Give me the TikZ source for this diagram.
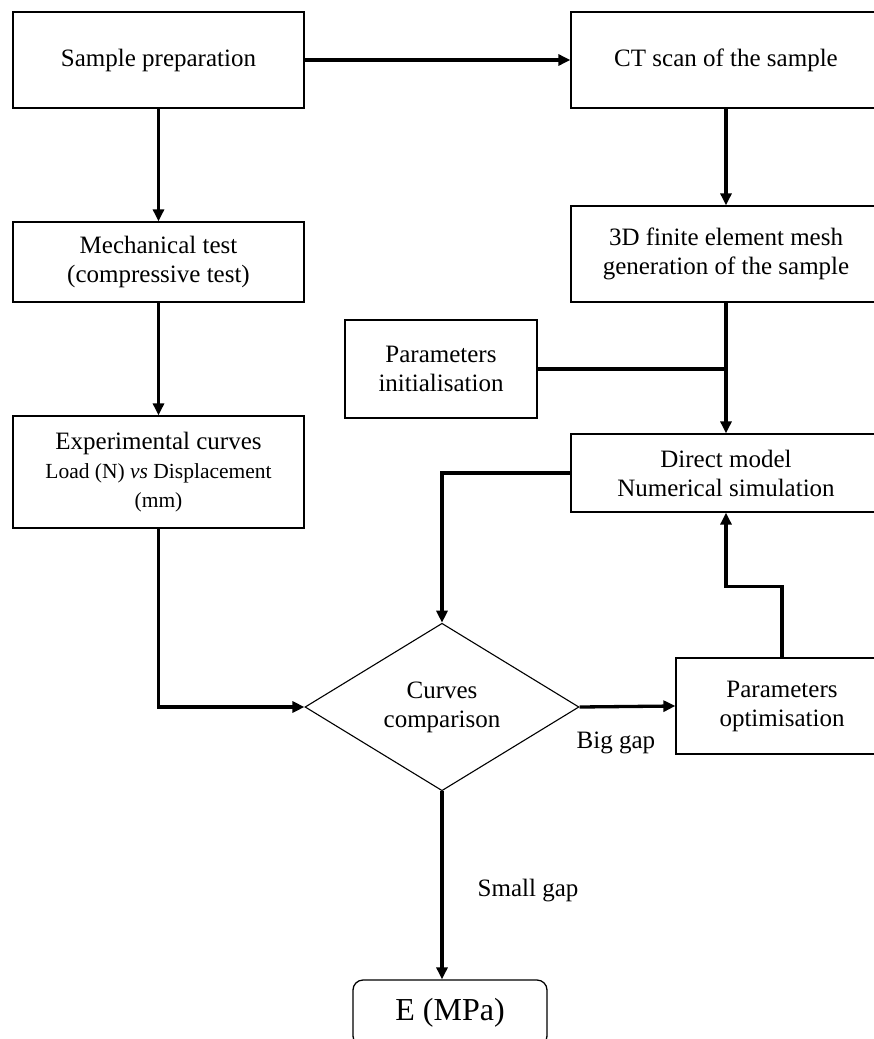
\documentclass[tikz,border=0pt]{standalone}
\usepackage{fontspec}
\setmainfont{Liberation Serif}
\usetikzlibrary{arrows.meta,shapes.geometric}
\begin{document}
\begin{tikzpicture}[x=1pt, y=-1pt,
        box/.style={draw, line width=1.3pt, align=center, inner sep=2pt, font=\fontsize{25}{29}\selectfont},
        decision/.style={draw, diamond, line width=1.1pt, align=center, inner sep=0pt, minimum width=274pt, minimum height=159pt, font=\fontsize{25}{29}\selectfont},
        flow/.style={line width=3.3pt, -{Triangle[length=12pt,width=11pt]}},
        link/.style={line width=3.3pt},
        lbl/.style={font=\fontsize{25}{29}\selectfont}]

        \useasboundingbox (0,0) rectangle (874,1039);

        % Left column
        \node[box, minimum width=291pt, minimum height=96pt] (prep) at (158.5,60) {Sample preparation};
        \node[box, minimum width=291pt, minimum height=80pt] (mech) at (158.5,262) {Mechanical test\\(compressive test)};
        \node[box, minimum width=291pt, minimum height=112pt] (exp) at (158.5,472) {Experimental curves\\{\fontsize{21.5}{25}\selectfont Load (N) \textit{vs} Displacement}\\{\fontsize{21.5}{25}\selectfont (mm)}};

        % Right column
        \node[box, minimum width=310pt, minimum height=96pt] (ct) at (726,60) {CT scan of the sample};
        \node[box, minimum width=310pt, minimum height=96pt] (mesh) at (726,254) {3D finite element mesh\\generation of the sample};
        \node[box, minimum width=192pt, minimum height=98pt] (init) at (441,369) {Parameters\\initialisation};
        \node[box, minimum width=310pt, minimum height=78pt] (direct) at (726,473) {Direct model\\Numerical simulation};

        % Comparison loop
        \node[decision] (cmp) at (442,707) {Curves\\comparison};
        \node[box, minimum width=212pt, minimum height=96pt] (opt) at (782,706) {Parameters\\optimisation};
        \node[box, rounded corners=10pt, minimum width=194pt, minimum height=66pt] (res) at (450,1013) {\fontsize{32}{36}\selectfont E (MPa)};

        \coordinate (join) at (direct.north |- init.east);

        % Connectors
        \draw[flow] (prep) -- (ct);
        \draw[flow] (prep) -- (mech);
        \draw[flow] (mech) -- (exp);
        \draw[flow] (ct) -- (mesh);
        \draw[flow] (mesh) -- (direct);
        \draw[link] (init) -- (join);
        \draw[flow] (exp.south) |- (cmp.west);
        \draw[flow] (direct.west) -| (cmp.north);
        \draw[flow] (cmp.east) -- node[pos=0.38, yshift=-36pt, lbl] {Big gap} (opt.west);
        \draw[flow] (opt.north) -- ++(0,-71) -| (direct.south);
        \draw[flow] (cmp.south) -- node[midway, xshift=86pt, yshift=-5pt, lbl] {Small gap} (cmp.south |- res.north);

\end{tikzpicture}
\end{document}
